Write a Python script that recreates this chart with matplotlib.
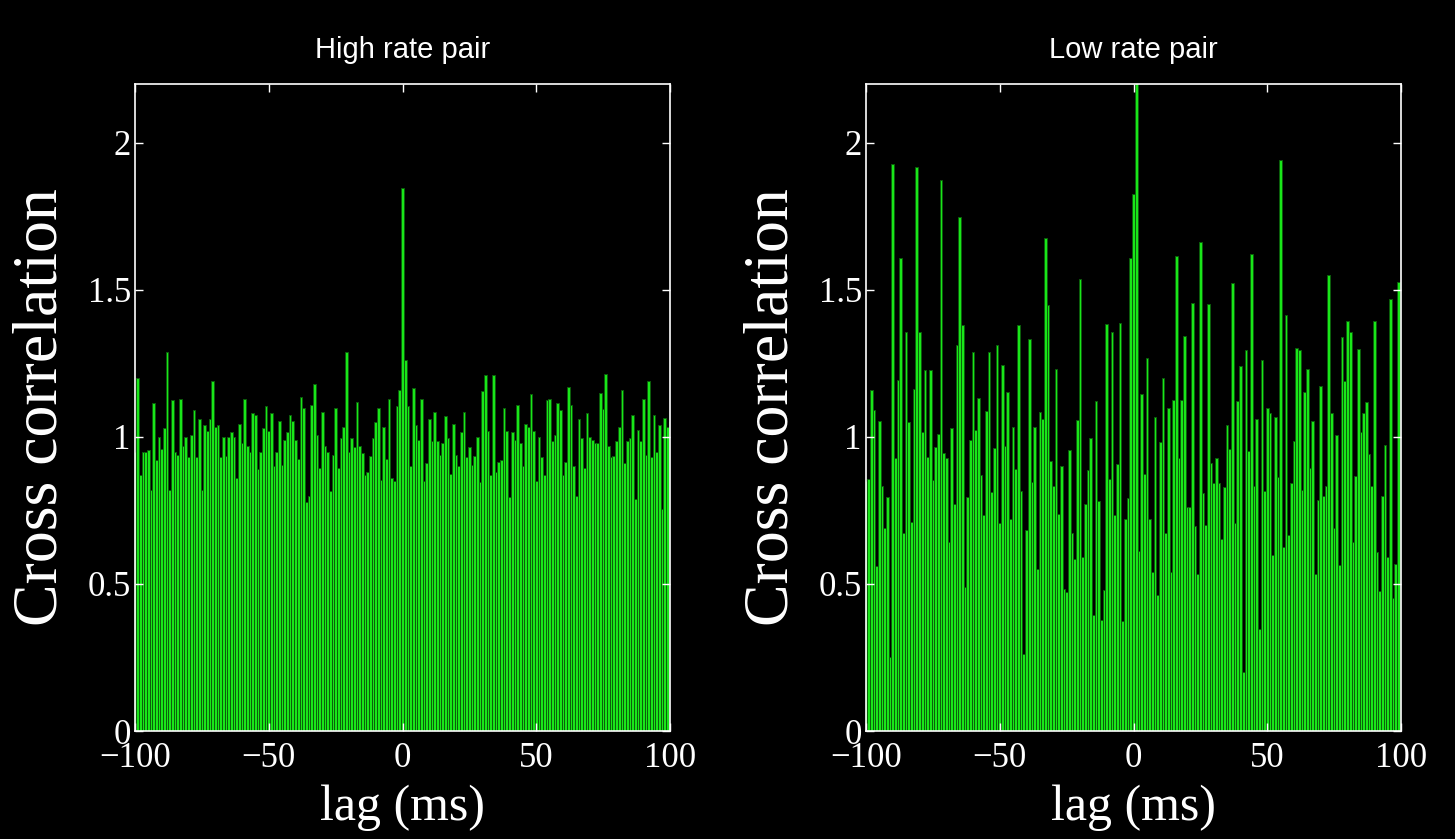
import numpy as np
import matplotlib
matplotlib.use('Agg')
import matplotlib.pyplot as plt

# lags -100..100 (1 ms bins)
lags = np.arange(-100, 101)

# high rate pair, lag -100 .. 100
high_rate = [0.95,
    1.20, 0.87, 0.95, 0.95, 0.955, 0.82, 1.115, 0.92, 1.0, 0.96,
    1.03, 1.29, 0.82, 1.125, 0.95, 0.94, 1.13, 0.97, 1.0, 0.93,
    1.005, 1.09, 0.93, 1.06, 0.82, 1.04, 1.02, 1.06, 1.19, 1.035,
    1.04, 0.93, 1.0, 0.935, 1.0, 1.015, 1.0, 0.86, 1.045,
    0.98, 1.13, 0.97, 0.95, 1.08, 1.075, 0.89, 0.95, 1.03, 1.105,
    1.02, 1.08, 0.90, 0.95, 1.055, 0.905, 0.99, 1.015, 1.075, 1.055,
    0.99, 0.925, 1.135, 1.10, 0.78, 0.80, 1.11, 1.18, 1.005, 0.895,
    1.085, 0.97, 0.95, 0.815, 0.94, 1.10, 0.895, 0.995, 1.035, 1.29,
    0.95, 0.995, 0.965, 1.12, 0.97, 0.945, 0.87, 0.88, 0.935, 0.995,
    1.05, 1.10, 0.855, 1.035, 0.925, 1.13, 0.86, 0.85, 1.105, 1.16,
    1.845,
    1.26, 1.105, 0.90, 1.165, 1.04, 0.99, 1.13, 0.85, 0.91, 1.06,
    0.985, 1.085, 0.985, 0.94, 0.98, 1.07, 0.995, 0.875, 1.045, 0.94,
    0.90, 1.015, 1.085, 0.93, 0.965, 0.905, 0.935, 1.0, 0.845, 1.155,
    1.21, 1.02, 0.87, 1.21, 0.88, 0.915, 0.92, 1.10, 1.02, 0.795,
    1.015, 0.99, 1.11, 0.98, 0.90, 1.045, 1.035, 1.145, 1.02, 0.85,
    1.0, 0.93, 0.87, 1.125, 1.13, 0.985, 1.005, 1.115, 1.09, 0.87,
    0.915, 1.17, 1.11, 0.90, 0.80, 1.06, 0.995, 0.895, 1.08, 1.0,
    0.99, 0.98, 0.98, 1.15, 1.095, 1.215, 0.97, 0.93, 0.935, 0.985,
    1.035, 1.16, 0.91, 0.985, 0.995, 1.075, 0.79, 1.025, 0.985, 1.13,
    0.94, 1.19, 0.93, 1.075, 0.95, 1.04, 0.755, 1.065, 1.035,
    1.05]

# low rate pair, lag -100 .. 100
low_rate = [0.85,
    0.857, 1.16, 1.09, 0.56, 1.054, 0.834, 0.69, 0.794, 0.25, 1.927,
    0.929, 1.195, 1.61, 0.672, 1.358, 1.049, 0.71, 1.164, 1.919, 1.358,
    1.016, 1.226, 0.933, 1.226, 0.852, 0.965, 1.009,
    1.872, 0.946, 0.929, 0.643, 1.03, 0.772, 1.313, 1.749, 1.38, 0.49,
    0.795, 0.99, 1.288, 1.023, 1.132, 0.872, 0.733, 1.089, 1.288, 0.811,
    0.961, 1.313, 0.706, 1.243, 0.97, 1.152, 0.72, 1.032,
    0.892, 1.381, 0.817, 0.261, 0.685, 1.333, 0.846, 1.034, 0.55, 1.084,
    1.062, 1.675, 1.447, 0.918, 0.834, 1.232, 0.737, 0.902, 0.484, 0.474,
    0.957, 0.672, 0.585, 1.057, 1.536, 0.593, 0.771, 0.888, 0.996,
    0.394, 1.121, 0.783, 0.377, 0.48, 1.383, 0.857, 1.357, 0.733, 0.908,
    1.388, 0.373, 0.722, 0.791, 1.608, 1.826, 2.3, 0.612, 1.147, 0.875,
    1.27, 0.72, 0.539, 1.066, 0.464, 0.981, 1.202, 0.674,
    1.1, 0.54, 1.125, 1.616, 0.927, 1.127, 1.342, 0.76, 0.763, 1.456,
    0.697, 0.534, 1.663, 0.81, 0.7, 1.453, 0.912, 0.844, 0.927, 0.844,
    0.652, 0.83, 1.042, 0.96, 1.522, 0.706, 1.121, 1.24, 0.2,
    1.294, 0.951, 1.621, 0.832, 1.061, 0.346, 1.26, 0.817, 1.1, 1.081,
    0.597, 1.066, 0.863, 1.942, 0.625, 1.415, 0.668, 0.842, 0.985, 1.302,
    1.294, 0.821, 1.152, 1.23, 0.895, 1.054, 0.534, 0.784,
    1.174, 0.8, 0.834, 1.55, 1.08, 0.689, 1.008, 0.566, 1.34, 1.189,
    1.394, 1.357, 0.643, 0.868, 1.299, 1.016, 1.08, 1.12, 0.943, 0.832,
    1.394, 0.608, 0.477, 0.8, 0.972, 0.592, 1.47, 0.453, 0.567, 1.528,
    0.9]

titles = ['High rate pair', 'Low rate pair']
xticks = [-100, -50, 0, 50, 100]
xticklabels = ['\u2212100', '\u221250', '0', '50', '100']
yticks = [0, 0.5, 1, 1.5, 2]
yticklabels = ['0', '0.5', '1', '1.5', '2']

serif = ['Liberation Serif', 'DejaVu Serif']
sans = ['Liberation Sans', 'DejaVu Sans']

fig = plt.figure(figsize=(14.55, 8.39), dpi=100, facecolor='black')
lefts = [135 / 1455, 866 / 1455]
w = 535 / 1455
b = 1 - 731 / 839
h = 647 / 839

for i, data in enumerate([high_rate, low_rate]):
    ax = fig.add_axes([lefts[i], b, w, h])
    ax.set_facecolor('black')
    ax.bar(lags, data, width=1.0, color='#19e619', edgecolor='#0b5e0b',
           linewidth=0.7, align='center')
    ax.set_xlim(-100, 100)
    ax.set_ylim(0, 2.2)
    ax.set_xticks(xticks)
    ax.set_xticklabels(xticklabels, fontfamily=serif, fontsize=25, color='white')
    ax.set_yticks(yticks)
    ax.set_yticklabels(yticklabels, fontfamily=serif, fontsize=25, color='white')
    ax.tick_params(direction='in', length=6, width=1, colors='white',
                   top=True, right=True)
    ax.tick_params(axis='x', pad=8)
    ax.tick_params(axis='y', pad=3)
    for sp in ax.spines.values():
        sp.set_color('white')
        sp.set_linewidth(1.2)
    ax.set_title(titles[i], color='white', fontsize=21, fontfamily=sans, pad=19)
    ax.set_ylabel('Cross correlation', color='white', fontsize=46, fontfamily=serif)
    ax.yaxis.set_label_coords(-0.174, 0.5)
    ax.yaxis.label.set_va('center')
    ax.set_xlabel('lag (ms)', color='white', fontsize=36, fontfamily=serif)
    ax.xaxis.set_label_coords(0.5, -0.118)
    ax.xaxis.label.set_va('center')

plt.savefig('out.png', dpi=100, facecolor='black')
